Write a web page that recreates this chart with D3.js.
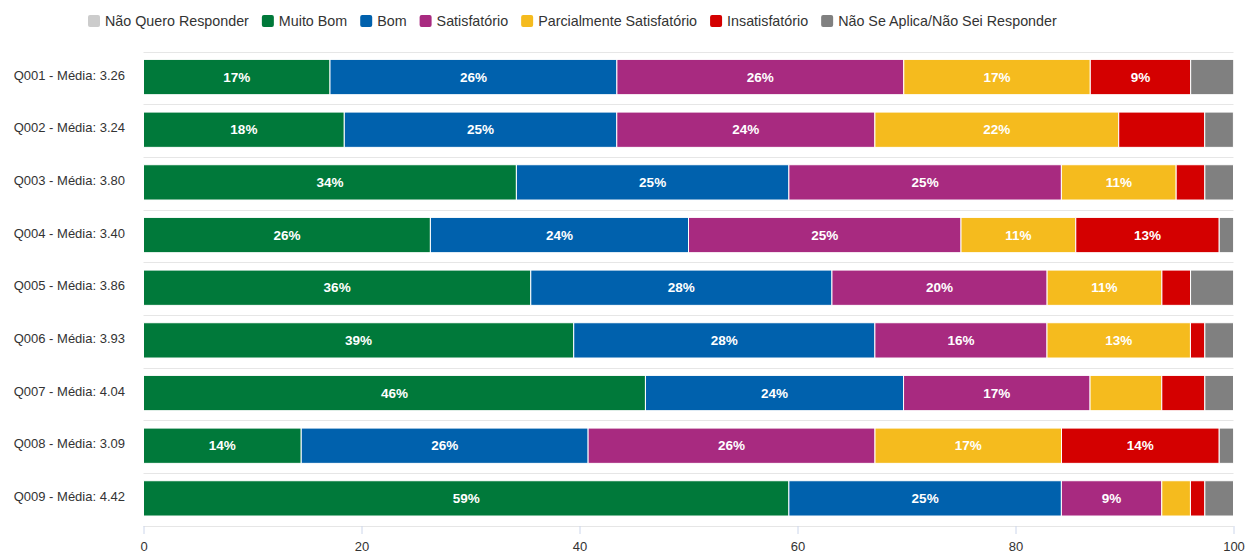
<!DOCTYPE html>
<html>
<head>
<meta charset="utf-8">
<script src="https://cdn.jsdelivr.net/npm/d3@7"></script>
<style>
  html, body { margin: 0; padding: 0; background: #fff; }
  svg { display: block; font-family: "Liberation Sans", Arial, Helvetica, sans-serif; }
</style>
</head>
<body>
<svg id="chart" width="1247" height="554"></svg>
<script>
// ---- Data ----
const categories = ["Q001", "Q002", "Q003", "Q004", "Q005", "Q006", "Q007", "Q008", "Q009"];
const means = ["3.26", "3.24", "3.80", "3.40", "3.86", "3.93", "4.04", "3.09", "4.42"];

const seriesNames = ["Não Quero Responder", "Muito Bom", "Bom", "Satisfatório", "Parcialmente Satisfatório", "Insatisfatório", "Não Se Aplica/Não Sei Responder"];
const seriesColors = ["#cccccc", "#00793a", "#0061ad", "#a82a80", "#f5bb1e", "#d40000", "#808080"];

const naoQuero      = [0, 0, 0, 0, 0, 0, 0, 0, 0];
const muitoBom      = [17.11, 18.42, 34.21, 26.32, 35.53, 39.47, 46.05, 14.47, 59.21];
const bom           = [26.32, 25.00, 25.00, 23.68, 27.63, 27.63, 23.68, 26.32, 25.00];
const satisfatorio  = [26.32, 23.68, 25.00, 25.00, 19.74, 15.79, 17.11, 26.32, 9.21];
const parcialmente  = [17.11, 22.37, 10.53, 10.53, 10.53, 13.16, 6.58, 17.11, 2.63];
const insatisfatorio= [9.21, 7.89, 2.63, 13.16, 2.63, 1.32, 3.95, 14.47, 1.32];
const naoSeAplica   = [3.95, 2.63, 2.63, 1.32, 3.95, 2.63, 2.63, 1.32, 2.63];

const xTicks = [0, 20, 40, 60, 80, 100];

// ---- Build table ----
const seriesValues = [naoQuero, muitoBom, bom, satisfatorio, parcialmente, insatisfatorio, naoSeAplica];
const table = categories.map((c, i) => {
  const row = { cat: c, label: c + " - Média: " + means[i] };
  seriesNames.forEach((s, k) => row[s] = seriesValues[k][i]);
  return row;
});

const svg = d3.select("#chart");
const margin = { left: 143.5, right: 1233.5, top: 51.5, bottom: 525.5 };

const x = d3.scaleLinear().domain([0, 100]).range([margin.left, margin.right]);
const y = d3.scaleBand().domain(categories).range([margin.top, margin.bottom]).padding(0);
const barH = y.bandwidth() * 0.67;
const barOff = y.bandwidth() * 0.15;

const color = d3.scaleOrdinal().domain(seriesNames).range(seriesColors);

// Gridlines (category band borders)
const gridVals = categories.map(c => y(c)).concat([y(categories[categories.length - 1]) + y.bandwidth()]);
svg.append("g").selectAll("line").data(gridVals).join("line")
  .attr("x1", margin.left).attr("x2", margin.right)
  .attr("y1", d => Math.round(d) + 0.5).attr("y2", d => Math.round(d) + 0.5)
  .attr("stroke", "#e6e6e6").attr("stroke-width", 1);

// Stack
const stack = d3.stack().keys(seriesNames);
const stacked = stack(table);

const barsG = svg.append("g");
stacked.forEach((layer) => {
  const g = barsG.append("g").attr("fill", color(layer.key));
  g.selectAll("rect").data(layer).join("rect")
    .attr("x", d => x(d[0]))
    .attr("width", d => Math.max(0, x(d[1]) - x(d[0])))
    .attr("y", d => y(d.data.cat) + barOff)
    .attr("height", barH)
    .attr("stroke", "#ffffff")
    .attr("stroke-width", 1);
});

// Data labels
const labelsG = svg.append("g");
stacked.forEach((layer) => {
  labelsG.append("g").selectAll("text")
    .data(layer.filter(d => (d[1] - d[0]) >= 8))
    .join("text")
    .attr("x", d => (x(d[0]) + x(d[1])) / 2)
    .attr("y", d => y(d.data.cat) + barOff + barH / 2)
    .attr("dy", "0.35em")
    .attr("text-anchor", "middle")
    .attr("fill", "#ffffff")
    .attr("font-size", "13.5px")
    .attr("font-weight", "bold")
    .text(d => Math.round(d[1] - d[0]) + "%");
});

// Category labels (left)
svg.append("g").selectAll("text").data(table).join("text")
  .attr("x", 125)
  .attr("y", d => y(d.cat) + barOff + barH / 2 - 2)
  .attr("dy", "0.35em")
  .attr("text-anchor", "end")
  .attr("font-size", "13px")
  .attr("fill", "#333333")
  .text(d => d.label);

// Bottom axis
const xAxis = d3.axisBottom(x).tickValues(xTicks).tickSize(8).tickPadding(8).tickFormat(d3.format("d"));
const axG = svg.append("g").attr("transform", `translate(0,${Math.round(margin.bottom)})`).call(xAxis);
axG.select(".domain").remove();
axG.selectAll(".tick line").attr("stroke", "#ccd6eb");
axG.selectAll(".tick text").attr("font-size", "13px").attr("fill", "#333333")
  .attr("font-family", "\"Liberation Sans\", Arial, sans-serif");

// Legend
const legend = svg.append("g").attr("transform", "translate(88,0)");
let lx = 0;
seriesNames.forEach((s, k) => {
  const item = legend.append("g").attr("transform", `translate(${lx},0)`);
  item.append("rect").attr("x", 0).attr("y", 15).attr("width", 12).attr("height", 12)
    .attr("rx", 2).attr("fill", seriesColors[k]);
  const t = item.append("text").attr("x", 17).attr("y", 21).attr("dy", "0.35em")
    .attr("font-size", "14.3px").attr("fill", "#333333").text(s);
  const w = t.node().getComputedTextLength();
  lx += 17 + w + 13;
});
</script>
</body>
</html>
